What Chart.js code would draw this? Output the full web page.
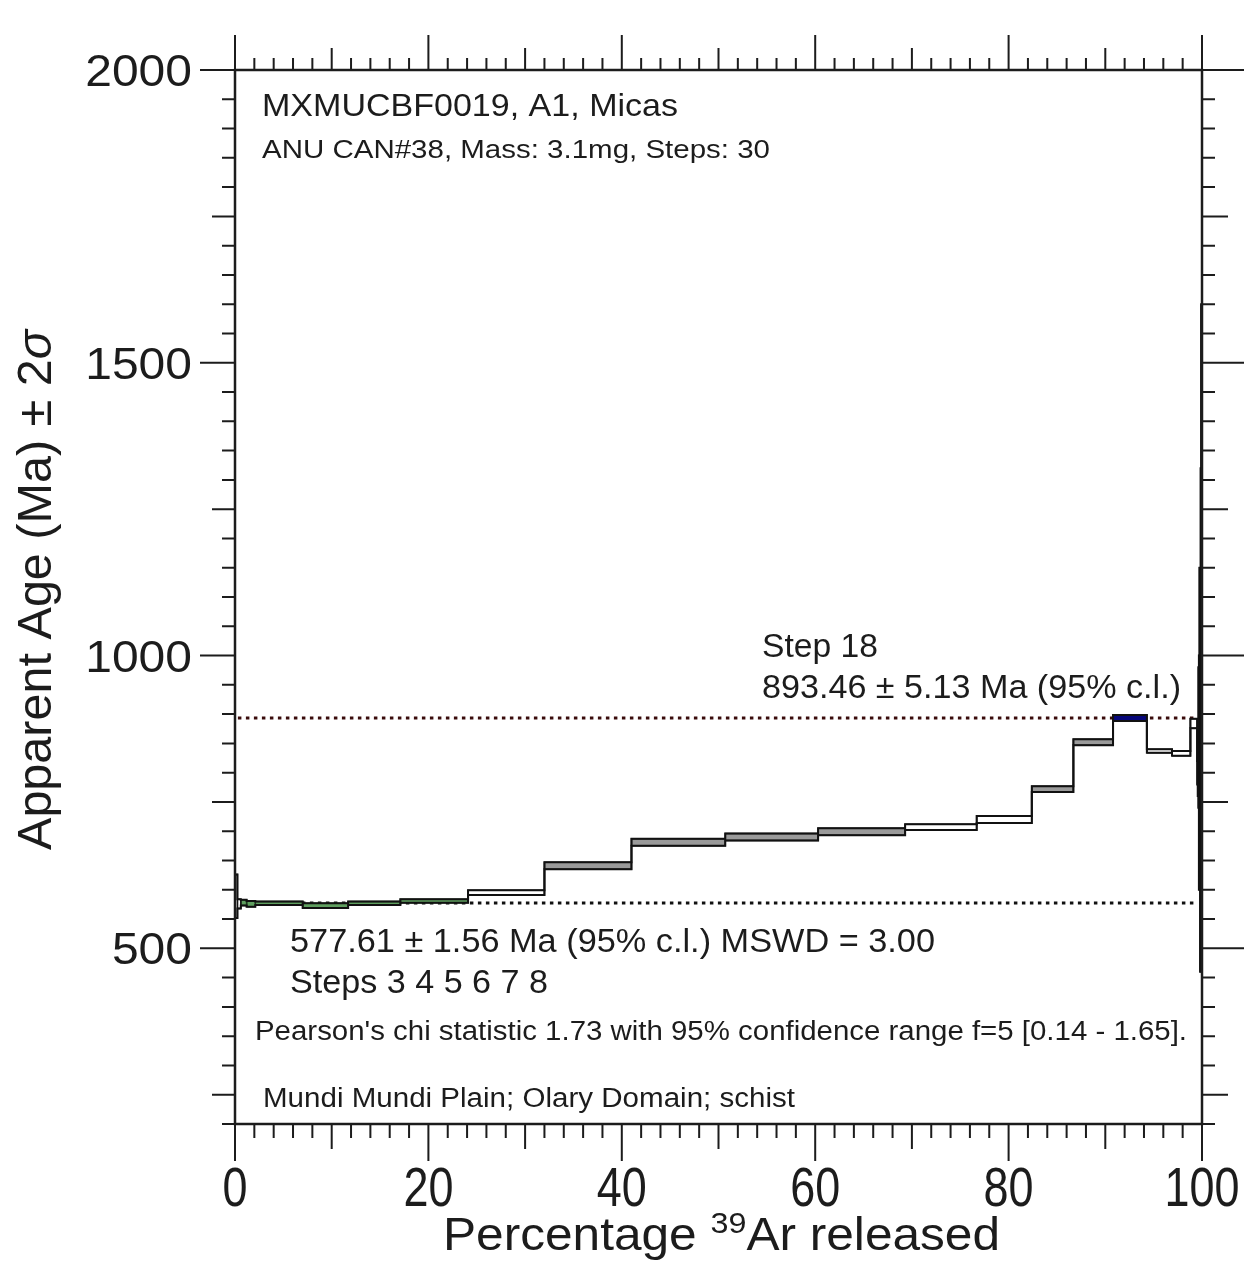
<!DOCTYPE html>
<html>
<head>
<meta charset="utf-8">
<title>Age spectrum MXMUCBF0019</title>
<script src="https://cdn.jsdelivr.net/npm/chart.js@4.4.0/dist/chart.umd.min.js"></script>
<style>
  html, body { margin: 0; padding: 0; background: #fff; }
  #wrap { width: 1250px; height: 1265px; }
</style>
</head>
<body>
<div id="wrap"><canvas id="spectrum" width="1250" height="1265"></canvas></div>
<script>
// Cumulative 39Ar released (%) at each step edge: 31 edges for 30 heating steps
const stepEdges = [0, 0.25, 0.6, 1.2, 2.1, 7.0, 11.7, 17.1, 24.1, 32.0, 41.0,
  50.7, 60.3, 69.3, 76.7, 82.4, 86.7, 90.8, 94.3, 96.9, 98.8,
  99.5, 99.56, 99.62, 99.68, 99.74, 99.8, 99.86, 99.91, 99.96, 100];

// Apparent age of each step (Ma) and its 2 sigma uncertainty
const stepAges = [589, 576, 578, 576, 577, 573, 577, 581, 595, 641,
  681, 690, 699, 707, 720, 772, 852, 893.46, 837, 833,
  884, 800, 820, 860, 800, 900, 800, 1000, 1100, 850];
const stepErrors = [37, 8, 5, 5, 3, 4, 3, 3, 4, 6,
  6, 6, 6, 5, 6, 5, 5, 5.13, 3, 4,
  8, 20, 60, 120, 200, 250, 340, 320, 500, 100];

const plateauSteps = [3, 4, 5, 6, 7, 8];
const plateauAge = 577.61;
const plateauErr = 1.56;
const plateauMswd = 3.00;
const selectedStep = 18;

const xTickLabels = [0, 20, 40, 60, 80, 100];
const yTickLabels = [500, 1000, 1500, 2000];

const FONT = '"Liberation Sans", Arial, Helvetica, sans-serif';
const INK = '#1c1c1c';

// steps drawn with a grey fill, the rest are left white
const greySteps = [10, 11, 12, 13, 16, 17, 23, 24, 25, 26, 27, 28, 29, 30];

function stepFill(n) {
  if (n === selectedStep) return '#06067a';
  if (plateauSteps.includes(n)) return '#5f9f5f';
  if (greySteps.includes(n)) return '#9a9a9a';
  return '#ffffff';
}

const datasets = [];

// reference levels (dotted), drawn underneath the steps
datasets.push({
  data: [{ x: 0.3, y: stepAges[selectedStep - 1] }, { x: 99.4, y: stepAges[selectedStep - 1] }],
  borderColor: '#3a0c0c', borderWidth: 3, borderDash: [3.5, 4.5], pointRadius: 0, order: 3
});
datasets.push({
  data: [{ x: 0.3, y: plateauAge }, { x: 99.4, y: plateauAge }],
  borderColor: '#111111', borderWidth: 3, borderDash: [3.5, 4.5], pointRadius: 0, order: 3
});

// one box per step: age - 2s to age + 2s
stepAges.forEach((age, i) => {
  const x0 = stepEdges[i], x1 = stepEdges[i + 1];
  const lo = age - stepErrors[i], hi = age + stepErrors[i];
  const n = i + 1;
  datasets.push({
    data: [{ x: x0, y: lo }, { x: x1, y: lo }, { x: x1, y: hi }, { x: x0, y: hi }, { x: x0, y: lo }],
    fill: 'shape',
    backgroundColor: stepFill(n),
    borderColor: plateauSteps.includes(n) ? '#1e3a1e' : '#111111',
    borderWidth: 1.5,
    pointRadius: 0,
    order: 2
  });
});

// upper and lower stepped envelopes joining neighbouring steps
function envelope(sign) {
  const pts = stepAges.map((age, i) => ({ x: stepEdges[i], y: age + sign * stepErrors[i] }));
  const last = stepAges.length - 1;
  pts.push({ x: 100, y: stepAges[last] + sign * stepErrors[last] });
  return pts;
}
[1, -1].forEach(sign => {
  datasets.push({
    data: envelope(sign),
    stepped: 'before',
    borderColor: '#111111',
    borderWidth: 2,
    pointRadius: 0,
    fill: false,
    order: 1
  });
});

// draws a run of text pieces, stretched horizontally so the run spans `width`
function drawRun(ctx, pieces, x, y, width, align) {
  let total = 0;
  pieces.forEach(p => {
    ctx.font = (p.italic ? 'italic ' : '') + p.size + 'px ' + FONT;
    p.w = ctx.measureText(p.text).width;
    total += p.w;
  });
  const sx = width ? width / total : 1;
  const start = align === 'center' ? -total * sx / 2 : align === 'right' ? -total * sx : 0;
  ctx.save();
  ctx.translate(x + start, y);
  ctx.scale(sx, 1);
  ctx.textAlign = 'left';
  ctx.textBaseline = 'alphabetic';
  ctx.fillStyle = INK;
  let cx = 0;
  pieces.forEach(p => {
    ctx.font = (p.italic ? 'italic ' : '') + p.size + 'px ' + FONT;
    ctx.fillText(p.text, cx, -(p.rise || 0));
    cx += p.w;
  });
  ctx.restore();
}

const frame = {
  id: 'frame',
  afterDatasetsDraw(chart) {
    const { ctx, chartArea: a, scales: { x, y } } = chart;
    ctx.save();
    ctx.strokeStyle = INK;

    // tick marks on all four sides, pointing outwards
    ctx.lineWidth = 2;
    ctx.beginPath();
    for (let v = 0; v <= 100; v += 2) {
      const px = x.getPixelForValue(v);
      const big = v % 20 === 0, mid = v % 10 === 0;
      const down = big ? 37 : mid ? 25 : 14;
      const up = big ? 35 : mid ? 22 : 12;
      ctx.moveTo(px, a.bottom); ctx.lineTo(px, a.bottom + down);
      ctx.moveTo(px, a.top); ctx.lineTo(px, a.top - up);
    }
    for (let v = 200; v <= 2000; v += 50) {
      const py = y.getPixelForValue(v);
      const big = v % 500 === 0, mid = v % 250 === 0;
      const left = big ? 35 : mid ? 23 : 13;
      const right = big ? 42 : mid ? 26 : 13;
      ctx.moveTo(a.left, py); ctx.lineTo(a.left - left, py);
      ctx.moveTo(a.right, py); ctx.lineTo(a.right + right, py);
    }
    ctx.stroke();

    ctx.lineWidth = 2.5;
    ctx.strokeRect(a.left, a.top, a.right - a.left, a.bottom - a.top);

    // tick labels
    yTickLabels.forEach(v => {
      const s = String(v);
      drawRun(ctx, [{ text: s, size: 45 }], a.left - 43, y.getPixelForValue(v) + 16, s.length * 26.7, 'right');
    });
    xTickLabels.forEach(v => {
      const s = String(v);
      drawRun(ctx, [{ text: s, size: 56 }], x.getPixelForValue(v), 1206, s.length * 25, 'center');
    });

    // axis titles
    drawRun(ctx, [
      { text: 'Percentage ', size: 46 },
      { text: '39', size: 30, rise: 17 },
      { text: 'Ar released', size: 46 }
    ], 443, 1250, 557, 'left');

    ctx.save();
    ctx.translate(51, 590);
    ctx.rotate(-Math.PI / 2);
    drawRun(ctx, [
      { text: 'Apparent Age (Ma) \u00b1 2', size: 48 },
      { text: '\u03c3', size: 48, italic: true }
    ], 0, 0, 520, 'center');
    ctx.restore();

    // annotations
    const sel = selectedStep - 1;
    drawRun(ctx, [{ text: 'MXMUCBF0019, A1, Micas', size: 32 }], 262, 116, 416);
    drawRun(ctx, [{ text: 'ANU CAN#38, Mass: 3.1mg, Steps: ' + stepAges.length, size: 26 }], 262, 158, 508);
    drawRun(ctx, [{ text: 'Step ' + selectedStep, size: 34 }], 762, 657, 116);
    drawRun(ctx, [{ text: stepAges[sel].toFixed(2) + ' \u00b1 ' + stepErrors[sel].toFixed(2) + ' Ma (95% c.l.)', size: 34 }], 762, 698, 419);
    drawRun(ctx, [{ text: plateauAge.toFixed(2) + ' \u00b1 ' + plateauErr.toFixed(2) + ' Ma (95% c.l.) MSWD = ' + plateauMswd.toFixed(2), size: 34 }], 290, 952, 645);
    drawRun(ctx, [{ text: 'Steps ' + plateauSteps.join(' '), size: 34 }], 290, 993, 258);
    drawRun(ctx, [{ text: "Pearson's chi statistic 1.73 with 95% confidence range f=5 [0.14 - 1.65].", size: 27 }], 255, 1040, 932);
    drawRun(ctx, [{ text: 'Mundi Mundi Plain; Olary Domain; schist', size: 27 }], 263, 1107, 532);

    ctx.restore();
  }
};

new Chart(document.getElementById('spectrum').getContext('2d'), {
  type: 'line',
  data: { datasets },
  options: {
    responsive: false,
    animation: false,
    layout: { padding: { left: 235, right: 48, top: 70, bottom: 141 } },
    scales: {
      x: { type: 'linear', min: 0, max: 100, display: false },
      y: { type: 'linear', min: 200, max: 2000, display: false }
    },
    plugins: { legend: { display: false }, tooltip: { enabled: false } },
    elements: { point: { radius: 0 }, line: { tension: 0 } }
  },
  plugins: [frame]
});
</script>
</body>
</html>
